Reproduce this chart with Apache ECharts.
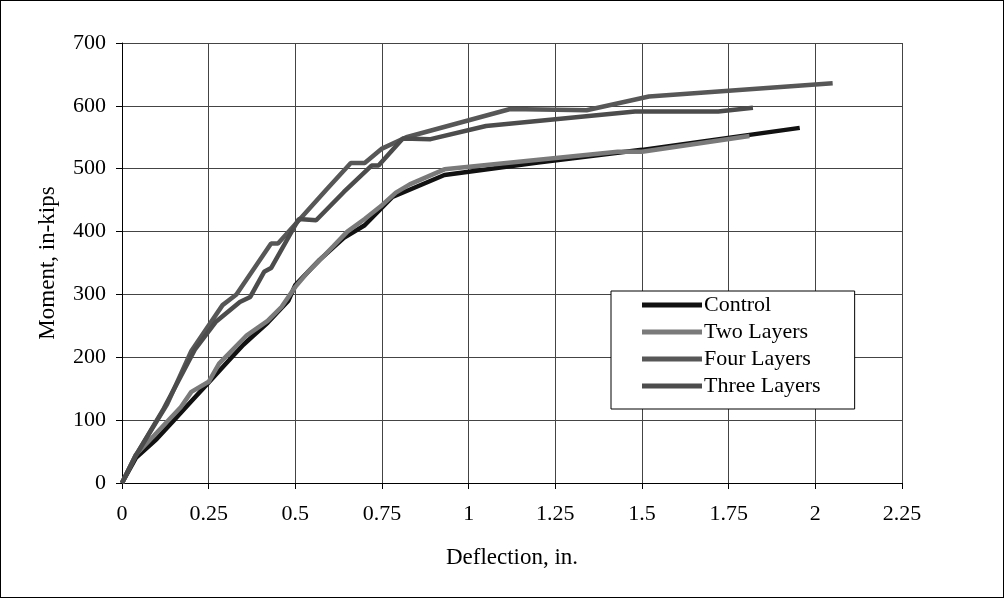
<!DOCTYPE html>
<html><head><meta charset="utf-8">
<script src="https://cdn.jsdelivr.net/npm/echarts@6/dist/echarts.min.js"></script>
<style>html,body{margin:0;padding:0;background:#fff}#c{width:1004px;height:598px;box-sizing:border-box;border:1px solid #000}</style>
</head><body><div id="c"></div>
<script>
const seriesNames = ['Control', 'Two Layers', 'Four Layers', 'Three Layers'];
const control = [[0,0],[0.04,40],[0.1,70],[0.15,100],[0.2,130],[0.25,160],[0.3,190],[0.35,220],[0.38,235],[0.42,255],[0.48,290],[0.5,315],[0.57,355],[0.64,390],[0.7,410],[0.78,455],[0.93,490],[1.2,510],[1.5,530],[1.955,565]];
const twoLayers = [[0,0],[0.04,45],[0.1,80],[0.17,121],[0.2,145],[0.25,161],[0.28,190],[0.36,235],[0.42,258],[0.46,280],[0.5,312],[0.54,338],[0.58,360],[0.61,377],[0.65,400],[0.7,420],[0.75,442],[0.79,462],[0.83,475],[0.93,499],[1.43,527],[1.5,527],[1.81,552]];
const fourLayers = [[0,0],[0.04,44],[0.13,125],[0.2,210],[0.29,283],[0.33,300],[0.43,381],[0.45,381],[0.52,424],[0.59,467],[0.66,509],[0.7,509],[0.75,532],[0.82,550],[1.12,595],[1.34,593],[1.52,615],[2.05,636]];
const threeLayers = [[0,0],[0.04,44],[0.12,118],[0.21,212],[0.27,256],[0.34,288],[0.37,296],[0.41,336],[0.43,342],[0.51,420],[0.56,418],[0.64,463],[0.72,505],[0.74,505],[0.81,548],[0.89,547],[1.05,568],[1.48,591],[1.72,591],[1.82,597]];
const xTicks = [0,0.25,0.5,0.75,1,1.25,1.5,1.75,2,2.25];
const yTicks = [0,100,200,300,400,500,600,700];

const colors = ['#111111','#7a7a7a','#575757','#4c4c4c'];
const dataSets = [control, twoLayers, fourLayers, threeLayers];
const font = 'Liberation Serif, Times New Roman, serif';

const chart = echarts.init(document.getElementById('c'));
chart.setOption({
  animation: false,
  textStyle: {fontFamily: font},
  grid: {left: 121, top: 42, width: 780, height: 440},
  legend: {
    orient: 'vertical', left: 610, top: 290,
    padding: [3, 34, 12, 31],
    backgroundColor: '#fff', borderColor: '#000', borderWidth: 1,
    itemWidth: 60, itemHeight: 5, itemGap: 5,
    icon: 'rect',
    textStyle: {fontFamily: font, fontSize: 22, lineHeight: 22, color: '#000', padding: [0,0,0,-3]},
    data: seriesNames
  },
  xAxis: {
    type: 'value', min: 0, max: 2.25, interval: 0.25,
    name: 'Deflection, in.', nameLocation: 'middle', nameGap: 63,
    nameTextStyle: {fontFamily: font, fontSize: 23, color: '#000'},
    axisLine: {lineStyle: {color: '#000', width: 1}},
    axisTick: {show: true, length: 6, lineStyle: {color: '#000'}},
    axisLabel: {fontFamily: font, fontSize: 22, color: '#000', margin: 20,
      formatter: v => xTicks.includes(+v.toFixed(2)) ? String(+v.toFixed(2)) : ''},
    splitLine: {show: true, lineStyle: {color: '#444', width: 1}}
  },
  yAxis: {
    type: 'value', min: 0, max: 700, interval: 100,
    name: 'Moment, in-kips', nameLocation: 'middle', nameGap: 63,
    nameTextStyle: {fontFamily: font, fontSize: 23, color: '#000'},
    axisLine: {show: true, lineStyle: {color: '#000', width: 1}},
    axisTick: {show: true, length: 6, lineStyle: {color: '#000'}},
    axisLabel: {fontFamily: font, fontSize: 22, color: '#000', margin: 16,
      formatter: v => yTicks.includes(v) ? String(v) : ''},
    splitLine: {show: true, lineStyle: {color: '#444', width: 1}}
  },
  series: seriesNames.map((n, i) => ({
    name: n, type: 'line', data: dataSets[i],
    showSymbol: false, symbol: 'none',
    lineStyle: {color: colors[i], width: 4.5},
    itemStyle: {color: colors[i]},
    z: 2 + i
  }))
});
</script></body></html>
